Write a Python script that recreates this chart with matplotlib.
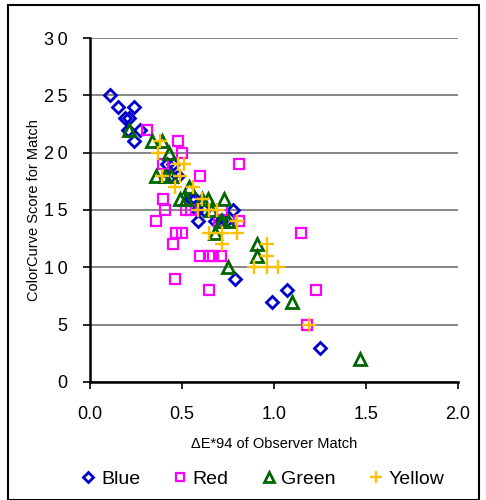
import matplotlib.pyplot as plt
from matplotlib.patches import Rectangle

# Observer match data: (dE*94, ColorCurve score)
blue_x = [0.11, 0.15, 0.24, 0.19, 0.21, 0.205, 0.27, 0.24, 0.42, 0.44, 0.45, 0.48,
          0.55, 0.57, 0.59, 0.58, 0.71, 0.78, 0.74, 0.62, 0.79, 0.99, 1.07, 1.25, 0.68]
blue_y = [25, 24, 24, 23, 23, 22, 22, 21, 19, 18, 19, 18,
          16, 16, 14, 15, 14, 15, 14, 15, 9, 7, 8, 3, 14]

red_x = [0.31, 0.48, 0.50, 0.40, 0.81, 0.60, 0.40, 0.41, 0.36, 0.47, 0.50, 0.45, 0.55,
         0.81, 0.60, 0.645, 0.67, 0.71, 0.46, 0.65, 1.15, 1.23, 1.18, 0.72, 0.70, 0.52]
red_y = [22, 21, 20, 19, 19, 18, 16, 15, 14, 13, 13, 12, 15,
         14, 11, 11, 11, 11, 9, 8, 13, 8, 5, 15, 14, 15]

green_x = [0.21, 0.34, 0.39, 0.43, 0.36, 0.41, 0.44, 0.54, 0.49, 0.52, 0.61, 0.64,
           0.73, 0.71, 0.75, 0.68, 0.72, 0.91, 0.91, 0.75, 1.10, 1.47, 0.66]
green_y = [22, 21, 21, 20, 18, 18, 18, 17, 16, 16, 16, 16,
           16, 14, 14, 13, 14, 12, 11, 10, 7, 2, 15]

yellow_x = [0.38, 0.37, 0.48, 0.51, 0.39, 0.49, 0.46, 0.56, 0.61, 0.59, 0.65, 0.69,
            0.80, 0.65, 0.72, 0.80, 0.72, 0.96, 0.96, 0.89, 0.96, 1.02, 1.19]
yellow_y = [21, 20, 19, 19, 18, 18, 17, 17, 16, 15, 15, 15,
            14, 13, 13, 13, 12, 12, 11, 10, 10, 10, 5]

y_ticks = [0, 5, 10, 15, 20, 25, 30]
# the source chart prints two-digit labels with a little gap between digits
y_labels = ["\u2009".join(str(v)) for v in y_ticks]

plt.rcParams["font.family"] = ["Liberation Sans", "DejaVu Sans"]

fig = plt.figure(figsize=(4.86, 5.0), dpi=100)
ax = fig.add_axes([0.185, 0.236, 0.757, 0.688])

ax.plot(blue_x, blue_y, "D", ms=6, mfc="none", mec="#0000CC", mew=2, label="Blue")
ax.plot(red_x, red_y, "s", ms=7.5, mfc="none", mec="#FF00FF", mew=1.6, label="Red")
ax.plot(green_x, green_y, "^", ms=8, mfc="none", mec="#006600", mew=2, label="Green")
ax.plot(yellow_x, yellow_y, "+", ms=10, mec="#FFC000", mew=1.7, label="Yellow")

ax.set_xlim(0, 2.0)
ax.set_ylim(0, 30)
ax.set_xticks([0.0, 0.5, 1.0, 1.5, 2.0])
ax.set_xticklabels(["0.0", "0.5", "1.0", "1.5", "2.0"])
ax.set_yticks(y_ticks)
ax.set_yticklabels(y_labels)
ax.tick_params(labelsize=13, direction="out", length=5, width=1.2, color="black")
ax.tick_params(axis="x", pad=12)
ax.tick_params(axis="y", pad=11)
ax.yaxis.grid(True, color="#666666", lw=1.1)
ax.set_axisbelow(True)
for side in ["top", "right"]:
    ax.spines[side].set_visible(False)
for side in ["left", "bottom"]:
    ax.spines[side].set_linewidth(1.8)

ax.set_xlabel("ΔE*94 of Observer Match", fontsize=10.5, labelpad=10)
ax.set_ylabel("ColorCurve Score for Match", fontsize=10.5, labelpad=2)

ax.legend(loc="upper center", bbox_to_anchor=(0.47, -0.235), ncol=4, frameon=False,
          fontsize=14, handlelength=0.7, handletextpad=0.3, columnspacing=1.7,
          borderaxespad=0, markerscale=0.85)

fig.patches.append(Rectangle((0.017, 0.0), 0.968, 0.99, transform=fig.transFigure,
                             fill=False, ec="black", lw=1.5))

fig.savefig("out.png", dpi=100)
